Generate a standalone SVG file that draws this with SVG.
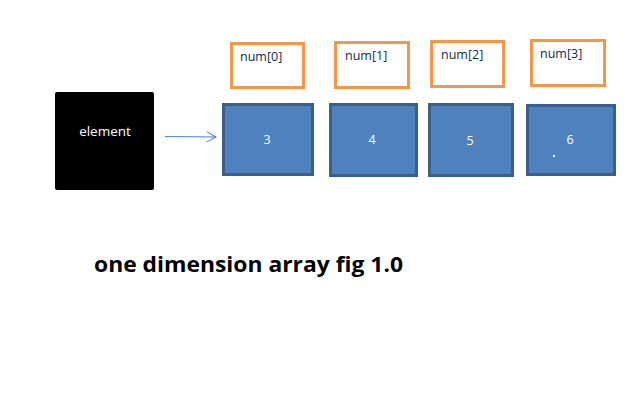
<svg xmlns="http://www.w3.org/2000/svg" width="626" height="402" viewBox="0 0 626 402">
<defs>
<style>
.idx{fill:#fff;stroke:#F79646;stroke-width:3}
.cell{fill:#4F81BD;stroke:#3A5F8C;stroke-width:3}
.lbl{font-family:"Open Sans","Liberation Sans",sans-serif;font-size:12.5px;fill:#102a4c}
.val{font-family:"Open Sans","Liberation Sans",sans-serif;font-size:12.5px;fill:#fff;text-anchor:middle}
</style>
<marker id="ah" markerWidth="12" markerHeight="12" refX="10" refY="6" orient="auto" markerUnits="userSpaceOnUse">
<path d="M1,1 L10,6 L1,11" fill="none" stroke="#4F81BD" stroke-width="1"/>
</marker>
</defs>
<rect width="626" height="402" fill="#fff"/>
<g id="element">
<rect x="55" y="92" width="99" height="98" rx="2" fill="#000"/>
<text x="105" y="136" class="val" style="font-size:13.5px">element</text>
</g>
<g id="connectors">
<line x1="165" y1="136.5" x2="216" y2="137" stroke="#4F81BD" stroke-width="1" marker-end="url(#ah)"/>
</g>
<g id="idx0"><rect class="idx" x="231.5" y="43.5" width="72" height="44"/><text class="lbl" x="240" y="61">num[0]</text></g>
<g id="idx1"><rect class="idx" x="335.5" y="42.5" width="73" height="45"/><text class="lbl" x="345" y="60">num[1]</text></g>
<g id="idx2"><rect class="idx" x="431.5" y="41.5" width="72" height="45"/><text class="lbl" x="441" y="59">num[2]</text></g>
<g id="idx3"><rect class="idx" x="531.5" y="40.5" width="73" height="45"/><text class="lbl" x="540" y="58">num[3]</text></g>
<g id="cell0"><rect class="cell" x="223.5" y="104.5" width="89" height="70"/><text class="val" x="267" y="144">3</text></g>
<g id="cell1"><rect class="cell" x="330.5" y="104.5" width="86" height="71"/><text class="val" x="372" y="144">4</text></g>
<g id="cell2"><rect class="cell" x="429.5" y="104.5" width="83" height="71"/><text class="val" x="470" y="145">5</text></g>
<g id="cell3"><rect class="cell" x="527.5" y="105.5" width="87" height="69"/><text class="val" x="570" y="144">6</text><circle cx="554" cy="156" r="1.2" fill="#fff"/></g>
<text x="94" y="272" font-family="'Open Sans',Lato,sans-serif" font-weight="bold" font-size="21" fill="#000" style="font-variant-ligatures:none" textLength="309" lengthAdjust="spacingAndGlyphs">one dimension array fig 1.0</text>
</svg>
